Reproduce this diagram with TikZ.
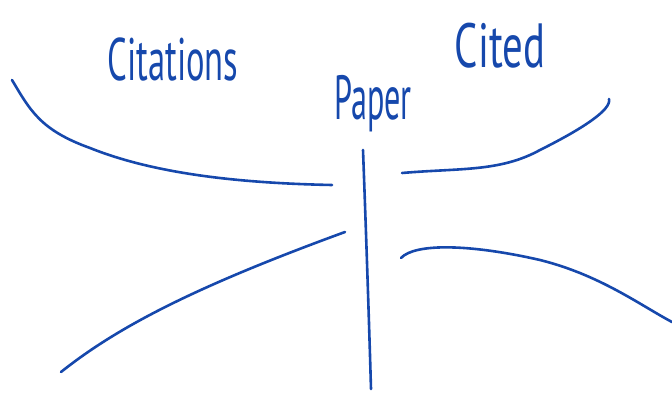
\documentclass[tikz,border=0pt]{standalone}
\usepackage{fontspec}
\setmainfont{PT Sans}
\definecolor{ink}{RGB}{22,72,172}
\begin{document}
\begin{tikzpicture}[x=1pt,y=-1pt,
  stroke/.style={draw=ink,line width=2.6pt,line cap=round,line join=round},
  lbl/.style={text=ink,inner sep=0pt,font=\fontsize{48}{48}\selectfont}]
\useasboundingbox (0,0) rectangle (672,393);
% labels
\node[lbl,xscale=0.72,yscale=1.25] (citations) at (173,60) {Citations};
\node[lbl,xscale=0.85,yscale=1.3] (cited) at (500,46) {Cited};
\node[lbl,xscale=0.67,yscale=1.3] (paper) at (373,104) {Paper};
% end points
\coordinate (ul0) at (12,80);
\coordinate (ul1) at (332,185);
\coordinate (ll0) at (61,372);
\coordinate (ll1) at (345,232);
\coordinate (v0) at (363,150);
\coordinate (v1) at (371,389);
\coordinate (ur0) at (402,173);
\coordinate (ur1) at (609,99);
\coordinate (lr0) at (401,258);
\coordinate (lr1) at (672,322);
% strokes
\draw[stroke] (ul0) .. controls (30,110) and (40,130) .. (90,148)
   .. controls (150,172) and (230,183) .. (ul1);
\draw[stroke] (ll0) .. controls (120,325) and (200,285) .. (ll1);
\draw[stroke] (v0) .. controls (366,230) and (369,320) .. (v1);
\draw[stroke] (ur0) .. controls (460,168) and (500,172) .. (540,150)
   .. controls (580,130) and (612,110) .. (ur1);
\draw[stroke] (lr0) .. controls (415,243) and (470,244) .. (540,260)
   .. controls (600,275) and (640,305) .. (lr1);
\end{tikzpicture}
\end{document}
